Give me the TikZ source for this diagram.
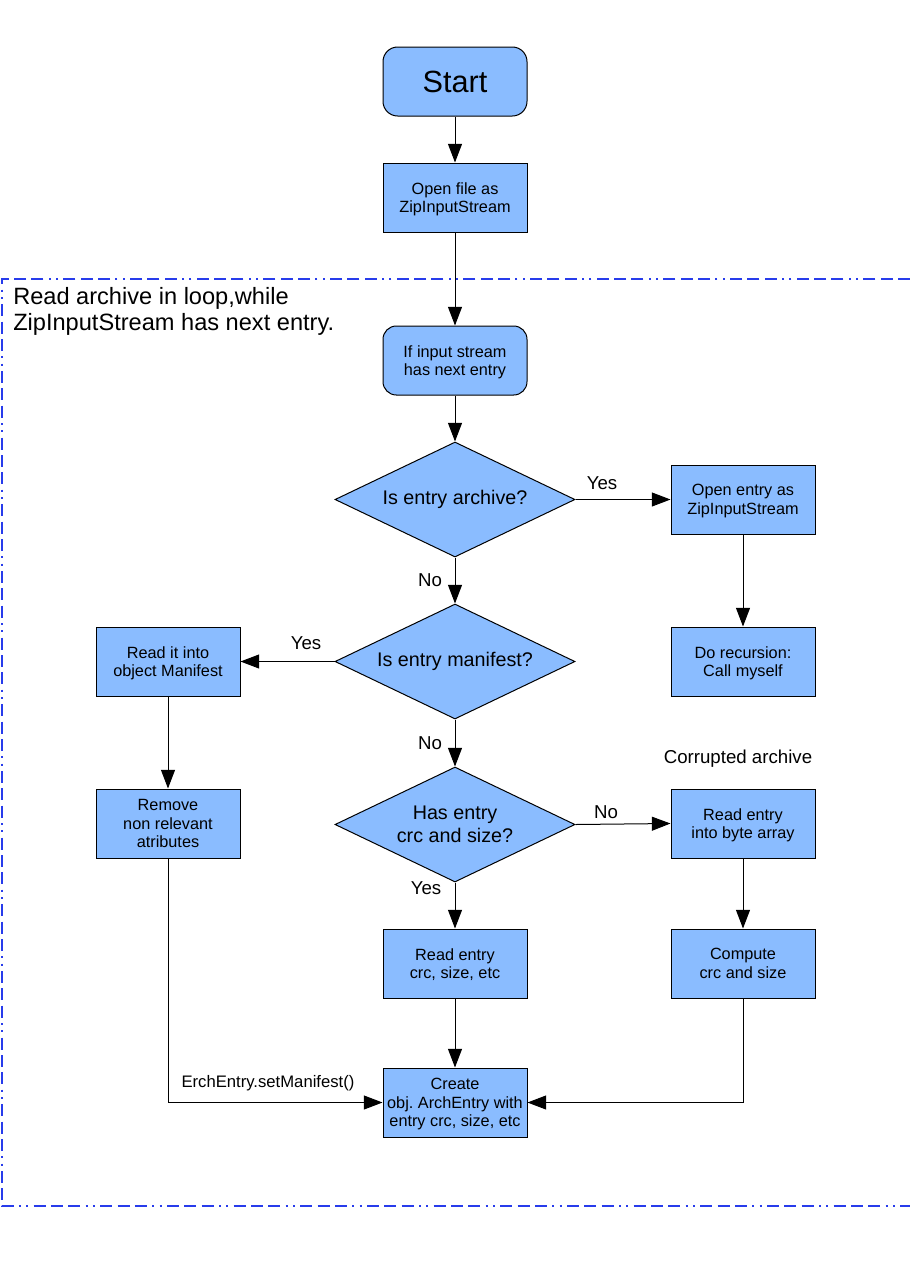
\documentclass[tikz,border=0pt]{standalone}
\usepackage{fontspec}
\setmainfont{Liberation Sans}
\frenchspacing
\usetikzlibrary{shapes.geometric,arrows.meta}
\definecolor{boxblue}{RGB}{138,188,255}
\definecolor{frameblue}{RGB}{40,60,235}
\begin{document}
\begin{tikzpicture}[x=0.75pt,y=-0.75pt,
  proc/.style={draw=black, line width=0.75pt, fill=boxblue, minimum width=108pt, minimum height=51.75pt, inner sep=0pt, align=center, font=\fontsize{12.2}{14}\selectfont, text depth=0pt},
  term/.style={proc, rounded corners=10pt},
  dec/.style={diamond, aspect=2.087, draw=black, line width=0.75pt, fill=boxblue, minimum width=180pt, minimum height=86.25pt, inner sep=0pt, align=center, font=\fontsize{14.8}{17.2}\selectfont},
  arr/.style={draw=black, line width=0.75pt, -{Triangle[length=14pt,width=10.5pt]}},
  lbl/.style={inner sep=0pt, font=\fontsize{14}{16}\selectfont},
  frame/.style={draw=frameblue, line width=0.9pt, dash pattern=on 9pt off 4pt on 9pt off 4pt on 9pt off 4pt on 1.5pt off 4pt on 1.5pt off 4pt}]
\useasboundingbox (0,0) rectangle (910,1286);
\fill[white] (0,0) rectangle (910,1286);
% frame
\coordinate (fa) at (910,279);
\coordinate (fb) at (2,279);
\coordinate (fc) at (2,1206);
\coordinate (fd) at (910,1206);
\draw[frame] (fa) -- (fb) -- (fc) -- (fd);
\node[anchor=base west, inner sep=0pt, align=left, font=\fontsize{17.7}{19}\selectfont] (ft) at (13,330) {Read archive in loop,while\\ZipInputStream has next entry.};
% nodes
\node[term, rounded corners=11pt, font=\fontsize{23}{26}\selectfont] (start) at (455,81.5) {Start};
\node[proc] (open) at (455,197.5) {Open file as\\ZipInputStream};
\node[term] (ifin) at (455,360.5) {If input stream\\has next entry};
\node[dec] (d1) at (455,499.5) {Is entry archive?};
\node[proc] (oe) at (743,499.5) {Open entry as\\ZipInputStream};
\node[proc] (rec) at (743,661.5) {Do recursion:\\Call myself};
\node[dec] (d2) at (455,661.5) {Is entry manifest?};
\node[proc] (rm) at (168,661.5) {Read it into\\object Manifest};
\node[proc] (rem) at (168,823.5) {Remove\\non relevant\\atributes};
\node[dec] (d3) at (455,824.5) {Has entry\\crc and size?};
\node[proc] (rb) at (743,823.5) {Read entry\\into byte array};
\node[proc] (rc) at (455,963.5) {Read entry\\crc, size, etc};
\node[proc] (cp) at (743,963.5) {Compute\\crc and size};
\node[proc] (cr) at (455,1102.5) {Create\\obj. ArchEntry with\\entry crc, size, etc};
% connectors
\draw[arr] (start) -- (open);
\draw[arr] (open) -- (ifin);
\draw[arr] (ifin) -- (d1);
\draw[arr] (d1.east) -- (oe.west);
\draw[arr] (oe) -- (rec);
\draw[arr] (d1.south) -- (d2.north);
\draw[arr] (d2.west) -- (rm.east);
\draw[arr] (rm) -- (rem);
\draw[arr] (d2.south) -- (d3.north);
\draw[arr] (d3.east) -- (rb.west);
\draw[arr] (rb) -- (cp);
\draw[arr] (d3.south) -- (rc.north);
\draw[arr] (rc) -- (cr);
\draw[arr] (rem.south) |- (cr.west);
\draw[arr] (cp.south) |- (cr.east);
% labels
\node[lbl] (l1) at (602,483) {Yes};
\node[lbl] (l2) at (430,580) {No};
\node[lbl] (l3) at (306,643) {Yes};
\node[lbl] (l4) at (430,743) {No};
\node[lbl] (l5) at (606,812) {No};
\node[lbl] (l6) at (426,888) {Yes};
\node[lbl] (l7) at (738,759) {Corrupted archive};
\node[lbl, font=\fontsize{12.5}{14}\selectfont] (l8) at (268,1083) {ErchEntry.setManifest()};
\end{tikzpicture}
\end{document}
